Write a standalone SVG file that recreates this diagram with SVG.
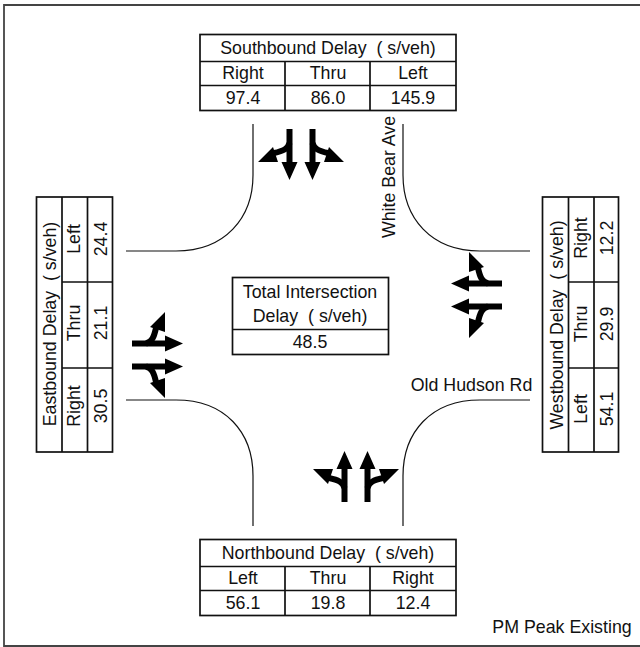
<svg xmlns="http://www.w3.org/2000/svg" width="640" height="647" viewBox="0 0 640 647">
<style>
text{font-family:"Liberation Sans",Arial,sans-serif;font-size:17.8px;fill:#111;text-anchor:middle}
.box{fill:#fff;stroke:#111;stroke-width:1.7}
.ln{fill:none;stroke:#111;stroke-width:1.7}
.rd{fill:none;stroke:#111;stroke-width:1.2}
.shaft{fill:none;stroke:#000;stroke-width:6}
.head{fill:#000}
</style>
<defs>
<g id="arrows">
<path class="shaft" d="M-11.500 -22V15M11.500 -22V15"/>
<path class="head" d="M-19.500 11H-3.500L-11.500 29ZM3.500 11H19.500L11.500 29Z"/>
<path class="shaft" d="M-11.500 -8C-13 -2 -18 0 -27 2M11.500 -8C13 -2 18 0 27 2"/>
<path class="head" d="M-43 11L-28 -4L-23 11ZM43 11L28 -4L23 11Z"/>
</g>
</defs>
<rect width="640" height="647" fill="#fff"/>
<path d="M640 5H4V646H640" fill="none" stroke="#444" stroke-width="1.800"/>
<g id="connectors">
<path class="rd" d="M253 124V175C253 218 225 251 176 251H126"/>
<path class="rd" d="M403 124V175C403 218 431 251 480 251H530"/>
<path class="rd" d="M253 526V476C253 432 225 400 176 400H126"/>
<path class="rd" d="M403 526V476C403 432 431 400 480 400H530"/>
<use href="#arrows" transform="translate(301 151)"/>
<use href="#arrows" transform="translate(154 355) rotate(-90)"/>
<use href="#arrows" transform="translate(480 295) rotate(90)"/>
<use href="#arrows" transform="translate(356 480) rotate(180)"/>
</g>
<g id="southbound">
<rect class="box" x="200" y="34.500" width="256" height="76"/>
<path class="ln" d="M200 61.500H456M200 85.500H456M285 61.500V110.500M370 61.500V110.500"/>
<text x="328" y="54" xml:space="preserve">Southbound Delay  ( s/veh)</text>
<text x="243" y="79">Right</text><text x="328" y="79">Thru</text><text x="413" y="79">Left</text>
<text x="243" y="104">97.4</text><text x="328" y="104">86.0</text><text x="413" y="104">145.9</text>
</g>
<g id="northbound">
<rect class="box" x="200" y="539.500" width="256" height="76"/>
<path class="ln" d="M200 566.500H456M200 590.500H456M285 566.500V615.500M370 566.500V615.500"/>
<text x="328" y="559" xml:space="preserve">Northbound Delay  ( s/veh)</text>
<text x="243" y="584">Left</text><text x="328" y="584">Thru</text><text x="413" y="584">Right</text>
<text x="243" y="609">56.1</text><text x="328" y="609">19.8</text><text x="413" y="609">12.4</text>
</g>
<g id="eastbound">
<rect class="box" x="36.500" y="197" width="76" height="255"/>
<path class="ln" d="M62 197V452M87.500 197V452M62 282H112.500M62 368H112.500"/>
<text transform="translate(56 324) rotate(-90)" xml:space="preserve">Eastbound Delay  ( s/veh)</text>
<text transform="translate(80 239) rotate(-90)">Left</text><text transform="translate(80 323) rotate(-90)">Thru</text><text transform="translate(80 406) rotate(-90)">Right</text>
<text transform="translate(107 239) rotate(-90)">24.4</text><text transform="translate(107 323) rotate(-90)">21.1</text><text transform="translate(107 406) rotate(-90)">30.5</text>
</g>
<g id="westbound">
<rect class="box" x="542.500" y="197" width="76" height="255"/>
<path class="ln" d="M568.500 197V452M594 197V452M568.500 282H618.500M568.500 368H618.500"/>
<text transform="translate(563 325) rotate(-90)" xml:space="preserve">Westbound Delay  ( s/veh)</text>
<text transform="translate(587 238) rotate(-90)">Right</text><text transform="translate(587 324) rotate(-90)">Thru</text><text transform="translate(587 409) rotate(-90)">Left</text>
<text transform="translate(613 238) rotate(-90)">12.2</text><text transform="translate(613 324) rotate(-90)">29.9</text><text transform="translate(613 409) rotate(-90)">54.1</text>
</g>
<g id="total">
<rect class="box" x="232.500" y="277.500" width="156" height="77"/>
<path class="ln" d="M232.500 329.500H388.500"/>
<text x="310" y="298">Total Intersection</text>
<text x="310" y="322" xml:space="preserve">Delay  ( s/veh)</text>
<text x="310" y="348">48.5</text>
</g>
<g id="labels">
<text transform="translate(395 177) rotate(-90)">White Bear Ave</text>
<text x="471.500" y="391">Old Hudson Rd</text>
<text x="562" y="633">PM Peak Existing</text>
</g>
</svg>
